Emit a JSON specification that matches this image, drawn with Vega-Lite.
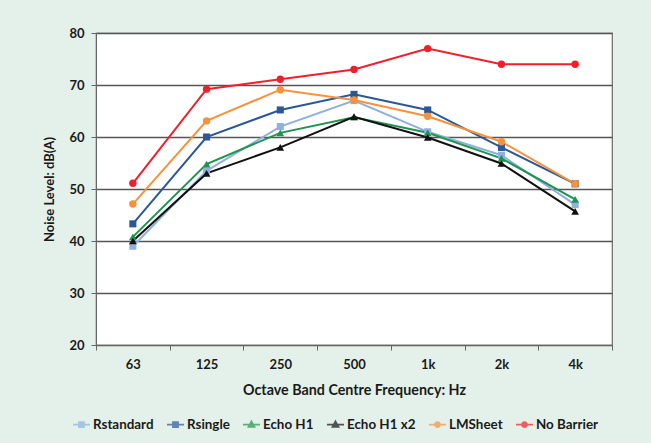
{
  "$schema": "https://vega.github.io/schema/vega-lite/v6.json",
  "width": 516,
  "height": 312,
  "autosize": {"type": "none"},
  "padding": {"left": 96, "top": 33, "right": 39, "bottom": 98},
  "background": "#e4f1ea",
  "config": {
    "font": "Lato",
    "view": {"stroke": "#6b6b6b", "strokeWidth": 1.2, "fill": "white"}
  },
  "data": {
    "values": [
      {"freq": "63", "series": "Rstandard", "level": 39},
      {"freq": "125", "series": "Rstandard", "level": 53.5},
      {"freq": "250", "series": "Rstandard", "level": 62},
      {"freq": "500", "series": "Rstandard", "level": 67},
      {"freq": "1k", "series": "Rstandard", "level": 61},
      {"freq": "2k", "series": "Rstandard", "level": 56.5},
      {"freq": "4k", "series": "Rstandard", "level": 47},
      {"freq": "63", "series": "Rsingle", "level": 43.3},
      {"freq": "125", "series": "Rsingle", "level": 60},
      {"freq": "250", "series": "Rsingle", "level": 65.2},
      {"freq": "500", "series": "Rsingle", "level": 68.2},
      {"freq": "1k", "series": "Rsingle", "level": 65.2},
      {"freq": "2k", "series": "Rsingle", "level": 58},
      {"freq": "4k", "series": "Rsingle", "level": 51},
      {"freq": "63", "series": "Echo H1", "level": 40.8},
      {"freq": "125", "series": "Echo H1", "level": 54.8},
      {"freq": "250", "series": "Echo H1", "level": 60.8},
      {"freq": "500", "series": "Echo H1", "level": 63.8},
      {"freq": "1k", "series": "Echo H1", "level": 60.8},
      {"freq": "2k", "series": "Echo H1", "level": 55.9},
      {"freq": "4k", "series": "Echo H1", "level": 48},
      {"freq": "63", "series": "Echo H1 x2", "level": 40},
      {"freq": "125", "series": "Echo H1 x2", "level": 53},
      {"freq": "250", "series": "Echo H1 x2", "level": 58},
      {"freq": "500", "series": "Echo H1 x2", "level": 63.9},
      {"freq": "1k", "series": "Echo H1 x2", "level": 59.9},
      {"freq": "2k", "series": "Echo H1 x2", "level": 54.9},
      {"freq": "4k", "series": "Echo H1 x2", "level": 45.7},
      {"freq": "63", "series": "LMSheet", "level": 47.1},
      {"freq": "125", "series": "LMSheet", "level": 63.1},
      {"freq": "250", "series": "LMSheet", "level": 69.1},
      {"freq": "500", "series": "LMSheet", "level": 67.1},
      {"freq": "1k", "series": "LMSheet", "level": 64},
      {"freq": "2k", "series": "LMSheet", "level": 59.1},
      {"freq": "4k", "series": "LMSheet", "level": 51},
      {"freq": "63", "series": "No Barrier", "level": 51.1},
      {"freq": "125", "series": "No Barrier", "level": 69.2},
      {"freq": "250", "series": "No Barrier", "level": 71.1},
      {"freq": "500", "series": "No Barrier", "level": 73},
      {"freq": "1k", "series": "No Barrier", "level": 77},
      {"freq": "2k", "series": "No Barrier", "level": 74},
      {"freq": "4k", "series": "No Barrier", "level": 74}
    ]
  },
  "encoding": {
    "x": {
      "field": "freq",
      "type": "ordinal",
      "sort": ["63", "125", "250", "500", "1k", "2k", "4k"],
      "bandPosition": 0.5,
      "scale": {"type": "band", "paddingInner": 0, "paddingOuter": 0},
      "axis": {
        "title": "Octave Band Centre Frequency: Hz",
        "titleFontSize": 14.3,
        "titleFontWeight": "bold",
        "titleColor": "#1a1a1a",
        "titlePadding": 12,
        "labelFontSize": 13,
        "labelFontWeight": "bold",
        "labelColor": "#1a1a1a",
        "labelAngle": 0,
        "labelPadding": 8,
        "tickBand": "extent",
        "tickSize": 5,
        "tickColor": "#666666",
        "domainColor": "#666666",
        "grid": false
      }
    },
    "y": {
      "field": "level",
      "type": "quantitative",
      "scale": {"domain": [20, 80]},
      "axis": {
        "title": "Noise Level: dB(A)",
        "values": [20, 30, 40, 50, 60, 70, 80],
        "titleFontSize": 13,
        "titleFontWeight": "bold",
        "titleColor": "#1a1a1a",
        "titlePadding": 12,
        "labelFontSize": 13,
        "labelFontWeight": "bold",
        "labelColor": "#1a1a1a",
        "labelPadding": 7,
        "tickSize": 5,
        "tickColor": "#666666",
        "domainColor": "#666666",
        "grid": true,
        "gridColor": "#555555",
        "gridWidth": 1.3
      }
    }
  },
  "layer": [
    {
      "mark": {"type": "line", "strokeWidth": 2},
      "encoding": {
        "stroke": {
          "field": "series",
          "type": "nominal",
          "scale": {
            "domain": ["Rstandard", "Rsingle", "Echo H1", "Echo H1 x2", "LMSheet", "No Barrier", "(none)"],
            "range": ["#8fb1dd", "#2b5797", "#1f9450", "#111111", "#f7923a", "#f0202a", "#999999"]
          },
          "legend": null
        }
      }
    },
    {
      "transform": [{"filter": {"field": "series", "oneOf": ["Rstandard", "Rsingle"]}}],
      "mark": {"type": "point", "filled": true, "opacity": 1, "shape": "square", "size": 50},
      "encoding": {
        "fill": {
          "field": "series",
          "type": "nominal",
          "scale": {
            "domain": ["Rstandard", "Rsingle", "Echo H1", "Echo H1 x2", "LMSheet", "No Barrier", "(none)"],
            "range": ["#8fb1dd", "#2b5797", "#1f9450", "#111111", "#f7923a", "#f0202a", "#999999"]
          },
          "legend": null
        }
      }
    },
    {
      "transform": [{"filter": {"field": "series", "oneOf": ["Echo H1", "Echo H1 x2"]}}],
      "mark": {"type": "point", "filled": true, "opacity": 1, "shape": "triangle-up", "size": 60},
      "encoding": {"fill": {"field": "series", "type": "nominal", "legend": null}}
    },
    {
      "transform": [{"filter": {"field": "series", "oneOf": ["LMSheet", "No Barrier"]}}],
      "mark": {"type": "point", "filled": true, "opacity": 1, "shape": "circle", "size": 55},
      "encoding": {"fill": {"field": "series", "type": "nominal", "legend": null}}
    },
    {
      "mark": {"type": "point", "filled": false, "size": 0},
      "encoding": {
        "color": {
          "field": "series",
          "type": "nominal",
          "scale": {
            "domain": ["Rstandard", "Rsingle", "Echo H1", "Echo H1 x2", "LMSheet", "No Barrier"],
            "range": ["#8fb1dd", "#2b5797", "#1f9450", "#111111", "#f7923a", "#f0202a"]
          },
          "legend": {
            "title": null,
            "orient": "none",
            "legendX": -24,
            "legendY": 382,
            "direction": "horizontal",
            "columns": 6,
            "columnPadding": 9,
            "symbolSize": 290,
            "symbolStrokeWidth": 1.7,
            "labelFontSize": 13.4,
            "labelFontWeight": "bold",
            "labelColor": "#1a1a1a",
            "labelOffset": 2
          }
        },
        "shape": {
          "field": "series",
          "type": "nominal",
          "scale": {
            "domain": ["Rstandard", "Rsingle", "Echo H1", "Echo H1 x2", "LMSheet", "No Barrier"],
            "range": [
              "M-1,0H1M-0.3,-0.3H0.3V0.3H-0.3ZM-0.12,-0.12H0.12V0.12H-0.12Z",
              "M-1,0H1M-0.3,-0.3H0.3V0.3H-0.3ZM-0.12,-0.12H0.12V0.12H-0.12Z",
              "M-1,0H1M0,-0.38L0.36,0.27H-0.36ZM0,-0.15L0.14,0.12H-0.14Z",
              "M-1,0H1M0,-0.38L0.36,0.27H-0.36ZM0,-0.15L0.14,0.12H-0.14Z",
              "M-1,0H1M0.3,0A0.3,0.3,0,1,1,-0.3,0A0.3,0.3,0,1,1,0.3,0ZM0.12,0A0.12,0.12,0,1,1,-0.12,0A0.12,0.12,0,1,1,0.12,0Z",
              "M-1,0H1M0.3,0A0.3,0.3,0,1,1,-0.3,0A0.3,0.3,0,1,1,0.3,0ZM0.12,0A0.12,0.12,0,1,1,-0.12,0A0.12,0.12,0,1,1,0.12,0Z"
            ]
          },
          "legend": {
            "title": null,
            "orient": "none",
            "legendX": -24,
            "legendY": 382,
            "direction": "horizontal",
            "columns": 6,
            "columnPadding": 9,
            "symbolSize": 290,
            "symbolStrokeWidth": 1.7,
            "labelFontSize": 13.4,
            "labelFontWeight": "bold",
            "labelColor": "#1a1a1a",
            "labelOffset": 2
          }
        }
      }
    }
  ]
}
